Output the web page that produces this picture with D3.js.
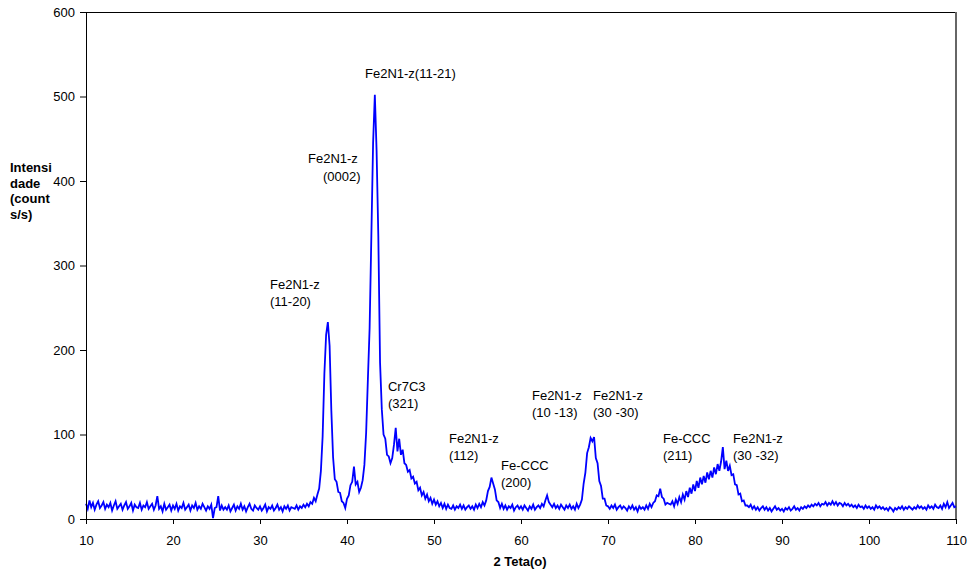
<!DOCTYPE html>
<html>
<head>
<meta charset="utf-8">
<script src="https://cdn.jsdelivr.net/npm/d3@7"></script>
<style>
  body { margin: 0; background: #fff; }
  svg text { font-family: "Liberation Sans", Arial, sans-serif; fill: #000; }
</style>
</head>
<body>
<div id="chart"></div>
<script>
// 2-theta scan, 10..110 in steps of 0.2 (counts/s)
const thetaStart = 10;
const thetaStep = 0.2;
const counts = [
  18,12,22,14,19,11,17,21,13,16,   // 10
  20,12,17,14,19,10,16,21,12,15,   // 12
  18,11,16,20,12,15,19,10,17,14,   // 14
  13,19,11,16,14,20,12,15,18,11,   // 16
  16,27,12,15,9,18,11,14,17,10,    // 18
  16,12,18,10,15,13,19,11,14,17,   // 20
  10,16,13,19,11,15,12,18,14,10,   // 22
  15,12,17,1,13,14,27,10,16,11,    // 24
  14,11,16,9,13,17,10,15,12,18,    // 26
  11,15,9,14,18,12,10,16,13,11,    // 28
  15,10,13,17,9,14,12,16,10,13,    // 30
  17,11,14,9,15,12,16,10,14,13,    // 32
  12,16,11,15,13,17,14,18,15,20,   // 34
  18,25,21,29,36,57,98,172,218,233, // 36
  205,128,73,47,44,32,31,21,19,13, // 38
  24,28,40,44,62,41,44,32,37,46,   // 40
  64,102,165,226,335,445,502,436,335,185, // 42
  130,100,95,76,74,66,72,88,108,80, // 44
  95,76,82,66,64,56,58,48,50,42,   // 46
  44,34,37,28,32,24,29,21,25,18,   // 48
  23,17,21,15,19,13,18,12,17,13,   // 50
  12,16,11,15,13,17,12,16,11,14,   // 52
  16,12,15,11,17,13,18,14,20,16,   // 54
  22,33,38,49,42,35,22,20,13,18,   // 56
  12,16,11,15,13,17,10,14,16,12,   // 58
  15,11,16,13,10,15,12,17,11,14,   // 60
  16,13,18,15,22,28,20,17,14,18,   // 62
  13,16,12,17,14,11,16,13,17,12,   // 64
  15,11,18,13,17,23,42,55,78,85,   // 66
  96,92,97,72,66,45,39,24,24,16,   // 68
  15,12,16,13,17,11,14,16,12,15,   // 70
  13,10,15,12,16,11,14,9,15,12,    // 72
  14,11,16,12,18,14,19,21,28,27,   // 74
  36,26,24,17,19,18,17,21,15,23,   // 76
  18,26,20,29,23,33,26,37,30,41,   // 78
  33,45,37,49,41,51,43,55,47,57,   // 80
  49,61,53,65,57,68,85,59,69,57,   // 82
  63,52,53,41,40,29,30,21,22,16,   // 84
  16,14,17,12,15,11,14,10,13,15,   // 86
  11,14,10,13,9,12,15,11,13,10,    // 88
  12,9,13,11,14,10,12,15,11,13,    // 90
  10,14,12,15,13,16,14,17,15,18,   // 92
  16,19,15,18,17,20,16,19,17,21,   // 94
  17,20,16,19,18,15,19,16,18,15,   // 96
  17,14,16,13,17,14,15,12,16,13,   // 98
  15,12,14,11,16,13,15,12,14,11,   // 100
  13,10,14,12,9,13,11,14,12,15,    // 102
  11,14,12,15,13,11,14,12,16,13,   // 104
  15,12,14,11,16,13,15,12,17,14,   // 106
  13,16,12,18,14,20,13,16,19,14,   // 108
  15                               // 110
];

const xTicks = [10, 20, 30, 40, 50, 60, 70, 80, 90, 100, 110];
const yTicks = [0, 100, 200, 300, 400, 500, 600];

// peak labels: [2theta, intensity, line1, line2]
const peakLabels = [
  [42.07, 527.8, "Fe2N1-z(11-21)", null],
  [35.52, 427.2, "Fe2N1-z", null],
  [37.24, 405.9, "(0002)", null],
  [31.15, 278.1, "Fe2N1-z", "(11-20)"],
  [44.71, 157.4, "Cr7C3", "(321)"],
  [51.72, 95.9, "Fe2N1-z", "(112)"],
  [57.70, 63.9, "Fe-CCC", "(200)"],
  [61.26, 146.7, "Fe2N1-z", "(10 -13)"],
  [68.28, 146.7, "Fe2N1-z", "(30 -30)"],
  [76.32, 95.9, "Fe-CCC", "(211)"],
  [84.37, 95.9, "Fe2N1-z", "(30 -32)"]
];

const yTitle = ["Intensi", "dade", "(count", "s/s)"];
const xTitle = "2 Teta(o)";

const W = 969, H = 575;
const margin = { top: 12, right: 13, bottom: 56, left: 86 };
const width = W - margin.left - margin.right;
const height = H - margin.top - margin.bottom;

const svg = d3.select("#chart").append("svg")
  .attr("width", W)
  .attr("height", H);

const g = svg.append("g")
  .attr("transform", `translate(${margin.left},${margin.top})`);

const x = d3.scaleLinear().domain([10, 110]).range([0, width]);
const y = d3.scaleLinear().domain([0, 600]).range([height, 0]);

// frame: top black, right grey
g.append("line")
  .attr("x1", 0).attr("x2", width).attr("y1", 0.5).attr("y2", 0.5)
  .attr("stroke", "#000").attr("stroke-width", 1);
g.append("line")
  .attr("x1", width).attr("x2", width).attr("y1", 0).attr("y2", height)
  .attr("stroke", "#666").attr("stroke-width", 2);

const data = counts.map((c, i) => [thetaStart + i * thetaStep, c]);

const line = d3.line()
  .x(d => x(d[0]))
  .y(d => y(d[1]));

g.append("path")
  .datum(data)
  .attr("fill", "none")
  .attr("stroke", "#0000ff")
  .attr("stroke-width", 1.8)
  .attr("stroke-linejoin", "miter")
  .attr("d", line);

// axes
const xAxis = g.append("g")
  .attr("transform", `translate(0,${height})`)
  .call(d3.axisBottom(x).tickValues(xTicks).tickSizeInner(5).tickSizeOuter(0).tickPadding(12));
const yAxis = g.append("g")
  .call(d3.axisLeft(y).tickValues(yTicks).tickSizeInner(6).tickSizeOuter(0).tickPadding(5));

[xAxis, yAxis].forEach(a => {
  a.select(".domain").attr("stroke", "#000");
  a.selectAll(".tick line").attr("stroke", "#000");
  a.selectAll(".tick text")
    .attr("font-size", 13)
    .attr("font-family", "Liberation Sans, Arial, sans-serif")
    .attr("fill", "#000");
});

// axis titles
svg.append("text")
  .attr("x", margin.left + width / 2 - 1)
  .attr("y", 566)
  .attr("text-anchor", "middle")
  .attr("font-size", 13)
  .attr("font-weight", "bold")
  .text(xTitle);

svg.append("g").selectAll("text")
  .data(yTitle)
  .enter().append("text")
  .attr("x", 10)
  .attr("y", (d, i) => 172 + i * 15.5)
  .attr("font-size", 13)
  .attr("font-weight", "bold")
  .text(d => d);

// peak labels
const lab = g.append("g").selectAll("g")
  .data(peakLabels)
  .enter().append("g")
  .attr("transform", d => `translate(${x(d[0])},${y(d[1])})`);

lab.append("text")
  .attr("dy", "0.35em")
  .attr("font-size", 13)
  .text(d => d[2]);

lab.filter(d => d[3]).append("text")
  .attr("y", 17)
  .attr("dy", "0.35em")
  .attr("font-size", 13)
  .text(d => d[3]);
</script>
</body>
</html>
